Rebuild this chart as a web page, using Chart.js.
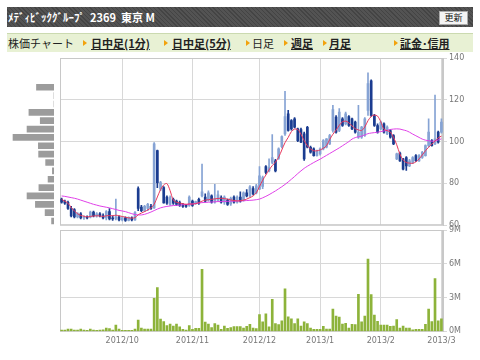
<!DOCTYPE html>
<html lang="ja">
<head>
<meta charset="utf-8">
<title>株価チャート 2369</title>
<script src="https://cdn.jsdelivr.net/npm/chart.js@4.4.1/dist/chart.umd.min.js"></script>
<style>
  body { margin: 0; width: 480px; height: 360px; background: #fff; position: relative; overflow: hidden;
         font-family: "Noto Sans CJK JP", "DejaVu Sans", sans-serif; }
  #title-bar { position: absolute; left: 7px; top: 7px; width: 466px; height: 20px;
               background: repeating-linear-gradient(45deg, #444 0 1px, #535353 1px 3px); color: #fff; }
  #title-bar .name { position: absolute; left: 1px; top: 0; line-height: 20px; font-size: 11px; font-weight: bold;
                     white-space: nowrap; }
  #reload { position: absolute; left: 432px; top: 4px; width: 27px; height: 12px; background: #f4f4f4;
            border: 1px solid #aaa; color: #111; font-size: 9px; line-height: 12px; text-align: center; }
  #menu { position: absolute; left: 7px; top: 33px; width: 466px; height: 18px; background: #e8f1d4;
          border-top: 1px solid #cbdab0; font-size: 11px; color: #222; }
  #menu span { position: absolute; top: 0; line-height: 18px; white-space: nowrap; }
  #menu .link { font-weight: bold; text-decoration: underline; }
  #menu .tri { top: 6px; width: 0; height: 0; border-left: 4px solid #f2a20c;
               border-top: 3px solid transparent; border-bottom: 3px solid transparent; }
  canvas { position: absolute; left: 0; }
  #price-chart { top: 50px; }
  #band-chart { top: 50px; }
  #vol-chart { top: 222px; }
</style>
</head>
<body>
<div id="title-bar">
  <span class="name">ﾒﾃﾞｨﾋﾞｯｸｸﾞﾙｰﾌﾟ&nbsp; 2369&nbsp; 東京 M</span>
  <div id="reload">更新</div>
</div>
<div id="menu">
  <span style="left:1px">株価チャート</span>
  <span class="tri" style="left:76px"></span><span class="link" style="left:84px">日中足(1分)</span>
  <span class="tri" style="left:157px"></span><span class="link" style="left:165px">日中足(5分)</span>
  <span class="tri" style="left:239px"></span><span style="left:245px">日足</span>
  <span class="tri" style="left:277px"></span><span class="link" style="left:284px">週足</span>
  <span class="tri" style="left:316px"></span><span class="link" style="left:322px">月足</span>
  <span class="tri" style="left:387px"></span><span class="link" style="left:393px">証金･信用</span>
</div>
<canvas id="price-chart" width="480" height="182"></canvas>
<canvas id="band-chart" width="60" height="182"></canvas>
<canvas id="vol-chart" width="480" height="136"></canvas>
<script>
// 日付（営業日）
const monthLabels = ['2012/9', '2012/10', '2012/11', '2012/12', '2013/1', '2013/2', '2013/3'];
const tradingDays = [
  [3, 4, 5, 6, 7, 10, 11, 12, 13, 14, 18, 19, 20, 21, 24, 25, 26, 27, 28],
  [1, 2, 3, 4, 5, 9, 10, 11, 12, 15, 16, 17, 18, 19, 22, 23, 24, 25, 26, 29, 30, 31],
  [1, 2, 5, 6, 7, 8, 9, 12, 13, 14, 15, 16, 19, 20, 21, 22, 26, 27, 28, 29, 30],
  [3, 4, 5, 6, 7, 10, 11, 12, 13, 14, 17, 18, 19, 20, 21, 25, 26, 27, 28],
  [4, 7, 8, 9, 10, 11, 15, 16, 17, 18, 21, 22, 23, 24, 25, 28, 29, 30, 31],
  [1, 4, 5, 6, 7, 8, 12, 13, 14, 15, 18, 19, 20, 21, 22, 25, 26, 27, 28],
  [1]
];

// 四本値
const openPrices = [
  72.5, 71.5, 71.0, 68.0, 67.5, 64.0, 65.5, 63.5, 64.0, 63.8,
  66.3, 64.5, 65.5, 64.5, 63.5, 66.5, 63.5, 63.0, 64.0, 62.5,
  63.5, 62.3, 63.5, 62.5, 77.5, 68.7, 67.0, 68.0, 69.0, 68.3,
  95.7, 77.2, 78.0, 73.5, 70.0, 72.4, 71.5, 70.8, 70.0, 69.5,
  69.5, 71.5, 70.5, 72.4, 74.0, 73.5, 72.0, 74.0, 71.0, 72.0,
  73.2, 71.0, 72.0, 70.2, 73.5, 71.0, 73.5, 72.0, 75.5, 74.0,
  77.5, 75.5, 77.2, 78.5, 88.0, 86.0, 90.0, 90.8, 92.0, 97.6,
  103.7, 113.3, 110.1, 110.9, 106.1, 105.8, 103.7, 106.8, 97.3, 96.5,
  93.3, 94.1, 96.5, 97.3, 98.9, 105.3, 111.7, 105.3, 110.9, 108.5,
  112.0, 110.9, 109.3, 102.1, 102.1, 102.9, 114.9, 129.1, 112.5, 107.7,
  106.1, 108.5, 103.7, 105.3, 102.9, 91.7, 94.5, 91.7, 92.4, 88.4,
  90.0, 93.3, 90.8, 92.4, 93.3, 98.1, 100.5, 98.9, 104.5, 104.5
];
const highPrices = [
  73.0, 72.0, 71.5, 69.0, 68.0, 66.0, 66.0, 64.5, 64.5, 66.8,
  66.8, 66.0, 66.0, 65.5, 67.0, 68.0, 64.5, 72.5, 64.5, 64.0,
  64.0, 64.0, 64.0, 66.5, 78.3, 69.5, 69.5, 70.5, 70.0, 99.5,
  96.0, 81.0, 78.5, 74.0, 74.0, 73.0, 72.0, 71.5, 70.5, 70.0,
  74.0, 72.0, 71.5, 73.0, 89.3, 75.0, 76.4, 74.5, 79.6, 76.4,
  74.0, 74.0, 72.5, 73.5, 74.0, 74.0, 76.0, 76.0, 77.0, 79.0,
  78.5, 79.5, 88.0, 83.5, 88.5, 91.7, 103.4, 91.5, 97.0, 102.8,
  124.0, 115.0, 110.5, 111.5, 106.5, 106.5, 104.5, 107.3, 97.8, 97.0,
  96.0, 97.0, 101.0, 101.5, 103.5, 117.3, 112.5, 115.8, 111.5, 114.1,
  112.5, 111.3, 109.8, 117.3, 107.3, 111.5, 132.9, 129.5, 113.0, 108.5,
  109.8, 109.0, 107.5, 105.8, 103.3, 94.5, 95.0, 92.0, 92.8, 91.5,
  92.8, 93.8, 93.8, 95.3, 98.5, 110.9, 101.0, 122.2, 105.0, 110.9
];
const lowPrices = [
  70.5, 70.0, 67.5, 64.0, 63.5, 63.5, 63.0, 62.8, 63.0, 63.5,
  64.0, 63.8, 64.0, 63.0, 62.5, 62.5, 62.3, 62.5, 62.0, 62.0,
  61.8, 62.0, 62.0, 62.3, 67.0, 66.5, 66.5, 67.0, 67.5, 68.0,
  78.0, 76.5, 70.5, 70.0, 69.5, 70.0, 69.5, 69.0, 68.5, 68.5,
  69.0, 69.0, 70.0, 70.0, 73.5, 71.0, 71.5, 70.5, 70.5, 71.5,
  70.5, 70.0, 69.5, 69.5, 70.5, 70.5, 71.0, 71.5, 73.5, 73.5,
  74.5, 75.0, 77.0, 77.5, 84.5, 85.5, 89.5, 85.5, 91.5, 97.0,
  103.0, 105.0, 105.5, 106.5, 100.0, 99.5, 91.0, 97.0, 94.5, 93.0,
  93.0, 93.5, 96.0, 97.0, 98.5, 104.5, 104.0, 104.8, 107.3, 108.0,
  107.3, 105.7, 104.0, 101.5, 101.5, 102.5, 112.5, 112.0, 107.3, 104.0,
  105.7, 104.0, 103.3, 101.7, 98.5, 91.3, 90.5, 86.5, 86.2, 88.0,
  89.5, 90.5, 90.5, 92.0, 93.0, 97.5, 97.8, 98.5, 99.3, 104.0
];
const closePrices = [
  71.0, 70.5, 68.0, 64.5, 64.0, 65.5, 63.5, 64.0, 63.5, 66.3,
  64.5, 65.5, 64.5, 63.5, 66.5, 63.0, 63.0, 64.0, 62.5, 63.5,
  62.3, 63.8, 62.5, 66.0, 68.0, 67.0, 69.0, 70.0, 68.0, 98.9,
  80.4, 80.4, 70.7, 70.5, 73.2, 70.5, 70.0, 69.5, 69.0, 69.0,
  73.5, 69.5, 71.3, 70.5, 76.0, 71.5, 75.5, 71.0, 72.5, 74.5,
  71.0, 73.5, 70.0, 72.8, 71.0, 73.5, 71.5, 75.5, 74.0, 78.3,
  75.0, 78.8, 83.6, 82.8, 85.2, 87.6, 92.4, 86.0, 96.5, 102.4,
  112.0, 105.3, 106.1, 106.9, 100.5, 99.7, 91.7, 97.3, 95.0, 93.3,
  95.7, 96.5, 100.5, 101.3, 102.9, 115.3, 104.5, 114.1, 107.7, 113.3,
  107.7, 106.1, 104.5, 104.5, 106.9, 110.9, 127.8, 112.5, 107.7, 104.5,
  109.3, 104.5, 106.9, 102.1, 98.9, 94.1, 90.8, 86.8, 88.4, 90.8,
  92.4, 90.8, 93.3, 94.9, 98.1, 104.5, 98.1, 101.3, 99.7, 109.3
];

// 移動平均（短期・長期）
const maShort = [
  72.4, 71.5, 70.5, 68.5, 66.8, 65.5, 64.7, 64.3, 64.0, 64.2,
  64.4, 64.5, 64.4, 64.2, 64.5, 64.6, 64.5, 64.8, 64.5, 64.2,
  63.8, 63.5, 63.4, 63.6, 65.0, 65.8, 66.5, 67.3, 68.3, 70.0,
  73.5, 77.0, 79.3, 79.9, 76.5, 72.0, 71.0, 70.6, 70.3, 70.0,
  70.2, 70.1, 70.3, 70.8, 71.5, 72.0, 72.2, 72.4, 72.6, 72.8,
  72.9, 72.7, 72.5, 72.1, 71.8, 71.6, 71.7, 72.0, 72.5, 73.2,
  74.0, 75.5, 78.5, 81.5, 84.0, 86.5, 88.5, 90.2, 92.5, 96.0,
  99.5, 102.0, 104.8, 106.0, 105.8, 103.5, 100.5, 98.0, 96.5, 95.6,
  95.6, 96.0, 96.8, 98.0, 101.0, 103.5, 105.5, 107.8, 109.5, 109.8,
  109.0, 107.5, 106.2, 105.6, 105.3, 107.0, 110.0, 112.0, 112.7, 112.2,
  109.5, 106.0, 105.2, 104.6, 102.0, 98.5, 94.0, 91.2, 90.0, 89.7,
  89.6, 90.3, 91.7, 93.6, 95.6, 97.3, 98.8, 100.2, 101.8, 102.6
];
const maLong = [
  74.0, 73.8, 73.5, 73.2, 72.9, 72.5, 72.0, 71.5, 71.0, 70.5,
  70.0, 69.6, 69.2, 68.9, 68.6, 68.3, 67.9, 67.5, 67.1, 66.8,
  66.5, 66.0, 65.5, 65.1, 64.9, 64.9, 65.2, 65.7, 66.3, 67.0,
  67.7, 68.3, 68.7, 69.0, 69.2, 69.4, 69.5, 69.6, 69.8, 69.9,
  70.0, 70.2, 70.4, 70.6, 70.8, 70.9, 71.0, 71.1, 71.2, 71.3,
  71.3, 71.4, 71.4, 71.5, 71.5, 71.6, 71.6, 71.7, 71.8, 71.9,
  72.0, 72.2, 72.5, 73.1, 73.8, 74.6, 75.5, 76.4, 77.4, 78.4,
  79.5, 80.7, 82.0, 83.3, 84.7, 86.0, 87.2, 88.2, 89.1, 90.0,
  90.8, 91.6, 92.5, 93.4, 94.3, 95.2, 96.1, 97.0, 98.0, 99.0,
  100.0, 101.2, 101.9, 102.3, 102.6, 103.2, 103.8, 104.1, 104.3, 104.5,
  104.8, 105.1, 105.4, 105.8, 106.0, 106.1, 106.0, 105.6, 105.2, 104.5,
  103.6, 102.8, 102.0, 101.2, 100.7, 100.4, 100.2, 100.3, 100.8, 101.3
];

// 出来高（百万株）
const volume = [
  0.12, 0.12, 0.2, 0.2, 0.12, 0.12, 0.2, 0.12, 0.1, 0.2,
  0.12, 0.1, 0.12, 0.15, 0.3, 0.24, 0.12, 0.57, 0.2, 0.1,
  0.1, 0.1, 0.1, 0.2, 1.0, 0.3, 0.2, 0.2, 0.2, 2.94,
  3.88, 1.09, 0.88, 0.52, 0.64, 0.48, 0.64, 0.4, 0.18, 0.12,
  0.52, 0.18, 0.27, 0.27, 5.5, 0.82, 0.64, 0.33, 0.7, 0.55,
  0.18, 0.48, 0.27, 0.33, 0.42, 0.42, 0.42, 0.3, 0.45, 0.63,
  0.3, 0.24, 1.5, 0.84, 1.56, 0.4, 2.85, 0.7, 0.6, 0.93,
  3.78, 1.29, 1.11, 0.7, 1.11, 0.48, 0.84, 0.7, 0.3, 0.18,
  0.18, 0.18, 0.45, 0.2, 0.2, 1.98, 1.35, 1.26, 0.66, 0.72,
  0.3, 0.63, 0.6, 3.3, 0.84, 1.35, 6.42, 3.27, 1.44, 0.9,
  0.57, 0.57, 0.57, 0.45, 0.48, 1.05, 0.3, 0.48, 0.3, 0.3,
  0.15, 0.18, 0.18, 0.18, 0.63, 1.98, 0.87, 4.68, 0.93, 1.11
];

// 価格帯別出来高（百万株）
const bandPrices = [62, 66, 70, 74, 78, 82, 86, 90, 94, 98, 102, 106, 110, 114, 118, 122, 126];
const bandVolume = [0.9, 3.3, 6.9, 10.0, 5.6, 2.2, 0.6, 3.1, 5.7, 5.8, 15.2, 10.0, 5.1, 9.3, 0, 0, 6.5];

// 軸
const priceTicks = { min: 60, max: 140, step: 20 };
const volumeTicks = { min: 0, max: 9, step: 3 };

// カテゴリと月初の目盛り
const categories = [];
const monthStarts = new Map();
tradingDays.forEach((days, m) => {
  if (m > 0) monthStarts.set(categories.length, monthLabels[m]);
  days.forEach(d => categories.push(monthLabels[m] + '/' + d));
});

const UP_COLOR = '#86a3d4';
const DOWN_COLOR = '#1b3c90';
const candleColors = openPrices.map((o, i) => closePrices[i] >= o ? UP_COLOR : DOWN_COLOR);
const wicks = lowPrices.map((l, i) => [l, highPrices[i]]);
const bodies = openPrices.map((o, i) => [o, closePrices[i]]);

const GRID = '#d8d8d8';
const tickFont = { family: 'DejaVu Sans', size: 8 };

// 月初だけ目盛りを残す
function keepMonthTicks(scale) {
  scale.ticks = scale.ticks.filter(t => monthStarts.has(t.value));
}

// 描画領域の枠
const framePlugin = {
  id: 'frame',
  beforeDatasetsDraw(chart) {
    const { ctx, chartArea: a } = chart;
    ctx.save();
    ctx.strokeStyle = '#c8c8c8';
    ctx.lineWidth = 1;
    ctx.strokeRect(a.left + 0.5, a.top + 0.5, a.width - 1, a.height - 1);
    ctx.restore();
  }
};

const priceChart = new Chart(document.getElementById('price-chart'), {
  type: 'bar',
  data: {
    labels: categories,
    datasets: [
      { type: 'line', label: '短期移動平均', data: maShort, borderColor: '#e8375c', borderWidth: 1,
        pointRadius: 0, tension: 0.3, order: 0 },
      { type: 'line', label: '長期移動平均', data: maLong, borderColor: '#e040e8', borderWidth: 1,
        pointRadius: 0, tension: 0.3, order: 0 },
      { label: '実体', data: bodies, backgroundColor: candleColors, barThickness: 2,
        minBarLength: 1, grouped: false, order: 1 },
      { label: 'ヒゲ', data: wicks, backgroundColor: candleColors, barThickness: 1,
        grouped: false, order: 2 }
    ]
  },
  options: {
    responsive: false,
    animation: false,
    layout: { padding: { left: 60, top: 8, bottom: 5, right: 0 } },
    plugins: { legend: { display: false }, tooltip: { enabled: false } },
    scales: {
      x: {
        offset: true,
        grid: { offset: false, color: GRID, drawTicks: false },
        ticks: { display: false, autoSkip: false },
        border: { display: false },
        afterBuildTicks: keepMonthTicks
      },
      y: {
        position: 'right',
        min: priceTicks.min,
        max: priceTicks.max,
        ticks: { stepSize: priceTicks.step, color: '#777', font: tickFont, padding: 2 },
        grid: { color: GRID, tickLength: 4 },
        border: { color: '#c8c8c8' },
        afterFit: (s) => { s.width = 37; }
      }
    }
  },
  plugins: [framePlugin]
});

// 価格帯別出来高（価格チャートの縦位置に合わせる）
const area = priceChart.chartArea;
const bandCanvas = document.getElementById('band-chart');
new Chart(bandCanvas, {
  type: 'bar',
  data: {
    datasets: [{
      label: '価格帯別出来高',
      data: bandPrices.map((p, i) => ({ x: bandVolume[i], y: p })),
      backgroundColor: '#9c9c9c',
      barThickness: 6
    }]
  },
  options: {
    indexAxis: 'y',
    responsive: false,
    animation: false,
    layout: { padding: { left: 6, right: 6, top: area.top, bottom: bandCanvas.height - area.bottom } },
    plugins: { legend: { display: false }, tooltip: { enabled: false } },
    scales: {
      y: { type: 'linear', min: priceTicks.min, max: priceTicks.max, offset: false, display: false },
      x: { min: 0, max: 17.8, reverse: true, display: false }
    }
  }
});

new Chart(document.getElementById('vol-chart'), {
  type: 'bar',
  data: {
    labels: categories,
    datasets: [{ label: '出来高', data: volume, backgroundColor: '#8db33a', barThickness: 2 }]
  },
  options: {
    responsive: false,
    animation: false,
    layout: { padding: { left: 60, top: 8, bottom: 7, right: 0 } },
    plugins: { legend: { display: false }, tooltip: { enabled: false } },
    scales: {
      x: {
        offset: true,
        grid: { offset: false, color: GRID, drawTicks: false },
        ticks: {
          autoSkip: false, maxRotation: 0, color: '#777', font: tickFont, padding: 5,
          callback: (value) => monthStarts.get(value) || ''
        },
        border: { display: false },
        afterBuildTicks: keepMonthTicks
      },
      y: {
        position: 'right',
        min: volumeTicks.min,
        max: volumeTicks.max,
        ticks: { stepSize: volumeTicks.step, color: '#777', font: tickFont, padding: 2,
                 callback: (v) => v + 'M' },
        grid: { color: GRID, tickLength: 4 },
        border: { color: '#c8c8c8' },
        afterFit: (s) => { s.width = 37; }
      }
    }
  },
  plugins: [framePlugin]
});
</script>
</body>
</html>
